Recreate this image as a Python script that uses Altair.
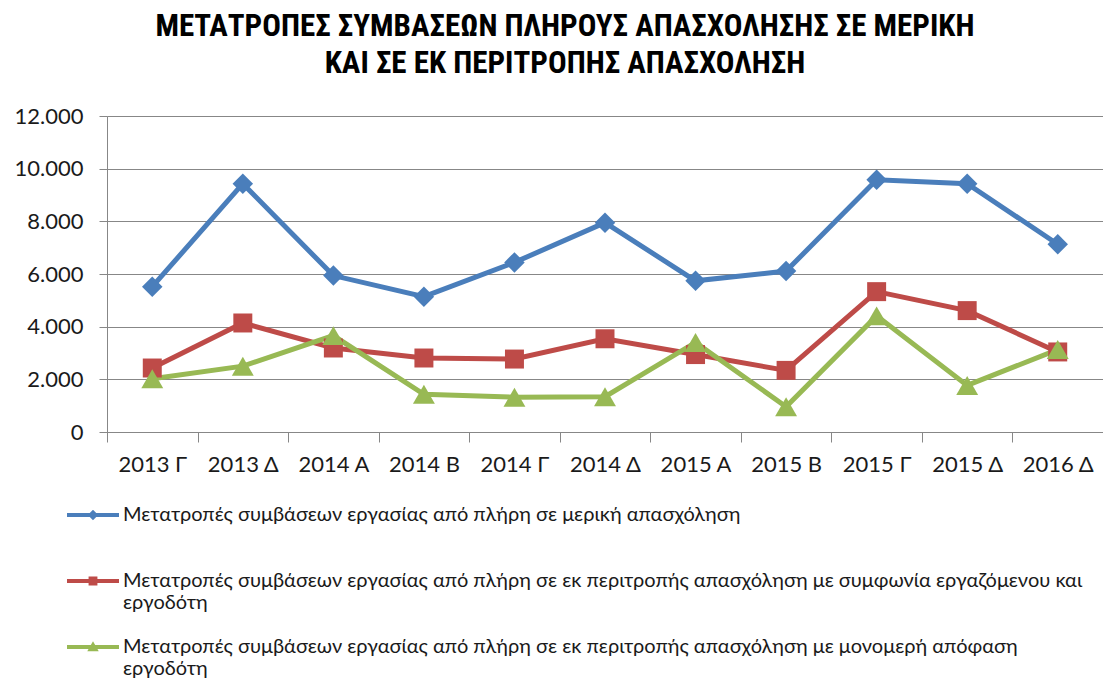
import altair as alt
import pandas as pd

categories = ["2013 Γ", "2013 Δ", "2014 Α", "2014 Β", "2014 Γ", "2014 Δ",
              "2015 Α", "2015 Β", "2015 Γ", "2015 Δ", "2016 Δ"]
series_names = [
    "Μετατροπές συμβάσεων εργασίας από πλήρη σε μερική απασχόληση| ",
    "Μετατροπές συμβάσεων εργασίας από πλήρη σε εκ περιτροπής απασχόληση με συμφωνία εργαζόμενου και|εργοδότη",
    "Μετατροπές συμβάσεων εργασίας από πλήρη σε εκ περιτροπής απασχόληση με μονομερή απόφαση|εργοδότη",
]
partial_values = [5520, 9430, 5940, 5140, 6440, 7950, 5740, 6110, 9580, 9430, 7130]
rotation_agreement = [2430, 4140, 3190, 2810, 2770, 3540, 2940, 2340, 5330, 4610, 3040]
rotation_unilateral = [2020, 2500, 3660, 1430, 1320, 1340, 3400, 960, 4410, 1770, 3130]
y_ticks = [0, 2000, 4000, 6000, 8000, 10000, 12000]
colors = ["#4a7ebb", "#be4b48", "#98b954"]
shapes = ["diamond", "square", "triangle-up"]
marker_sizes = [420, 360, 480]
legend_glyphs = [
    "M-1,-0.075L1,-0.075L1,0.075L-1,0.075ZM0,-0.2L0.2,0L0,0.2L-0.2,0Z",
    "M-1,-0.075L1,-0.075L1,0.075L-1,0.075ZM-0.17,-0.17L0.17,-0.17L0.17,0.17L-0.17,0.17Z",
    "M-1,-0.075L1,-0.075L1,0.075L-1,0.075ZM0,-0.22L0.22,0.16L-0.22,0.16Z",
]

rows = []
for name, vals in zip(series_names, [partial_values, rotation_agreement, rotation_unilateral]):
    for c, v in zip(categories, vals):
        rows.append({"period": c, "value": v, "series": name})
df = pd.DataFrame(rows)

FONT = "Lato"
TEXT = "#1a1a1a"
GRID = "#878787"

x = alt.X("period:N", sort=categories, title=None,
          scale=alt.Scale(paddingInner=0, paddingOuter=0),
          axis=alt.Axis(labelAngle=0, labelFont=FONT, labelFontSize=22, labelColor=TEXT,
                        labelPadding=12, tickBand="extent", tickSize=10, tickColor=GRID,
                        domainColor=GRID, grid=False))
y = alt.Y("value:Q", title=None,
          scale=alt.Scale(domain=[0, 12000], nice=False),
          axis=alt.Axis(values=y_ticks, labelFont=FONT, labelFontSize=22, labelColor=TEXT,
                        labelPadding=16, tickSize=8, tickColor=GRID, domainColor=GRID,
                        gridColor=GRID, gridWidth=1,
                        labelExpr="replace(format(datum.value, ','), ',', '.')"))

color_scale = alt.Scale(domain=series_names, range=colors)

legend_def = alt.Legend(
    title=None, orient="none", legendX=-40, legendY=373,
    direction="vertical", labelFont=FONT, labelFontSize=20,
    labelColor=TEXT, labelLimit=1100, rowPadding=8,
    symbolSize=2704, symbolStrokeWidth=0, labelOffset=4,
    labelExpr="split(datum.label, '|')")

# invisible carrier layer (size 0) whose only job is to drive the legend
legend_layer = alt.Chart(df).mark_point(filled=True, size=0, opacity=1).encode(
    x=x, y=y,
    color=alt.Color("series:N", sort=series_names, scale=color_scale, legend=legend_def),
    shape=alt.Shape("series:N", sort=series_names,
                    scale=alt.Scale(domain=series_names, range=legend_glyphs), legend=legend_def),
)

lines = alt.Chart(df).mark_line(strokeWidth=5).encode(
    x=x, y=y, color=alt.Color("series:N", sort=series_names))

point_layers = []
for name, shp, sz in zip(series_names, shapes, marker_sizes):
    point_layers.append(
        alt.Chart(df).transform_filter(alt.datum.series == name)
        .mark_point(filled=True, opacity=1, shape=shp, size=sz)
        .encode(x=x, y=y, color=alt.Color("series:N", sort=series_names))
    )

chart = alt.layer(legend_layer, lines, *point_layers).properties(
    width=996, height=316,
    autosize=alt.AutoSizeParams(type="none"),
    padding={"left": 99, "top": 108, "right": 0, "bottom": 250},
    title=alt.Title(
        ["ΜΕΤΑΤΡΟΠΕΣ ΣΥΜΒΑΣΕΩΝ  ΠΛΗΡΟΥΣ ΑΠΑΣΧΟΛΗΣΗΣ ΣΕ ΜΕΡΙΚΗ",
         "ΚΑΙ ΣΕ ΕΚ ΠΕΡΙΤΡΟΠΗΣ ΑΠΑΣΧΟΛΗΣΗ"],
        font="Liberation Sans Narrow, Roboto Condensed, DejaVu Sans Condensed",
        fontSize=31, fontWeight="bold",
        color="#000000", anchor="middle", frame="group", dx=-40, offset=25, lineHeight=37),
).configure_view(stroke=None).configure(background="white")

chart.save("out.html", embed_options={"renderer": "svg", "actions": False})
